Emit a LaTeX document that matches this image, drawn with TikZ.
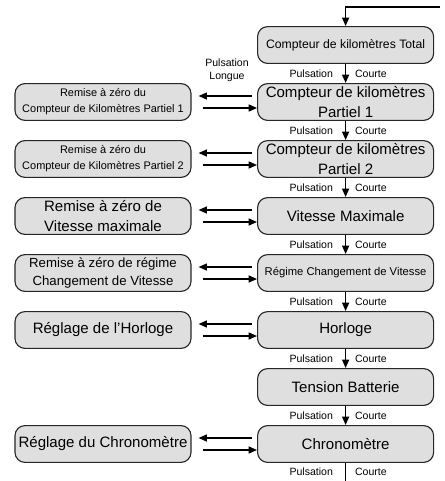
\documentclass[tikz,border=0pt]{standalone}
\usepackage{fontspec}
\setmainfont{Liberation Sans}
\usetikzlibrary{arrows.meta,positioning}

\begin{document}
\begin{tikzpicture}[
		menu/.style = {
			draw = black!85,
			rounded corners = 0.25cm,
			fill = gray!25,
			line width = 0.8pt,
			minimum width = 4.4cm,
			minimum height = 0.92cm,
			align = center,
			inner sep = 1pt
		},
		big/.style   = {font = \fontsize{10.7}{14}\selectfont},
		mid/.style   = {font = \fontsize{9.4}{12.5}\selectfont},
		small/.style = {font = \fontsize{7.8}{11.5}\selectfont},
		tag/.style   = {font = \fontsize{7.5}{9.2}\selectfont, inner sep = 0pt},
		arr/.style   = {line width = 1pt, -{Triangle[length=6pt,width=5pt]}}
	]
	\useasboundingbox (0,0) rectangle (11.1,-12.025);
	% right column
	\node[menu, font=\fontsize{8.7}{10}\selectfont] (KT) at (8.64,-1.125) {Compteur de kilomètres Total};
	\node[menu, big] (KP1) at (8.64,-2.55)  {Compteur de kilomètres\\Partiel 1};
	\node[menu, big] (KP2) at (8.64,-3.975) {Compteur de kilomètres\\Partiel 2};
	\node[menu, big] (VM)  at (8.64,-5.4)   {Vitesse Maximale};
	\node[menu, font=\fontsize{8}{10}\selectfont] (RCV) at (8.64,-6.825) {Régime Changement de Vitesse};
	\node[menu, big] (HO)  at (8.64,-8.25)  {Horloge};
	\node[menu, big] (TB)  at (8.64,-9.675) {Tension Batterie};
	\node[menu, big] (CH)  at (8.64,-11.1)  {Chronomètre};
	% left column
	\node[menu, small] (RKP1) at (2.575,-2.55)  {Remise à zéro du\\Compteur de Kilomètres Partiel 1};
	\node[menu, small] (RKP2) at (2.575,-3.975) {Remise à zéro du\\Compteur de Kilomètres Partiel 2};
	\node[menu, big]   (RVM)  at (2.575,-5.4)   {Remise à zéro de\\Vitesse maximale};
	\node[menu, mid]   (RRCV) at (2.575,-6.825) {Remise à zéro de régime\\Changement de Vitesse};
	\node[menu, big]   (RHO)  at (2.575,-8.25)  {Réglage de l'Horloge};
	\node[menu, big]   (RCH)  at (2.575,-11.1)  {Réglage du Chronomètre};
	\node[tag, align=center] (PL) at (5.675,-1.76) {Pulsation\\Longue};
	% connectors
	\coordinate (start) at (11.0,-0.175);
	\coordinate (end)   at (8.64,-12.025);
	\draw[arr] (start) -| (KT);
	\foreach \a/\b in {KT/KP1, KP1/KP2, KP2/VM, VM/RCV, RCV/HO, HO/TB, TB/CH}
		\draw[arr] (\a) -- (\b)
			node[midway, left=0.3cm, tag] {Pulsation}
			node[midway, right=0.22cm, tag] {Courte};
	\draw[line width=1pt] (CH) -- (end)
		node[midway, left=0.3cm, tag] {Pulsation}
		node[midway, right=0.22cm, tag] {Courte};
	\foreach \r/\l in {KP1/RKP1, KP2/RKP2, VM/RVM, RCV/RRCV, HO/RHO, CH/RCH} {
		\draw[arr] ([xshift=-0.125cm,yshift=0.15cm]\r.west) -- ([xshift=0.175cm,yshift=0.15cm]\l.east);
		\draw[arr] ([xshift=0.275cm,yshift=-0.15cm]\l.east) -- ([yshift=-0.15cm]\r.west);
	}
\end{tikzpicture}
\end{document}
